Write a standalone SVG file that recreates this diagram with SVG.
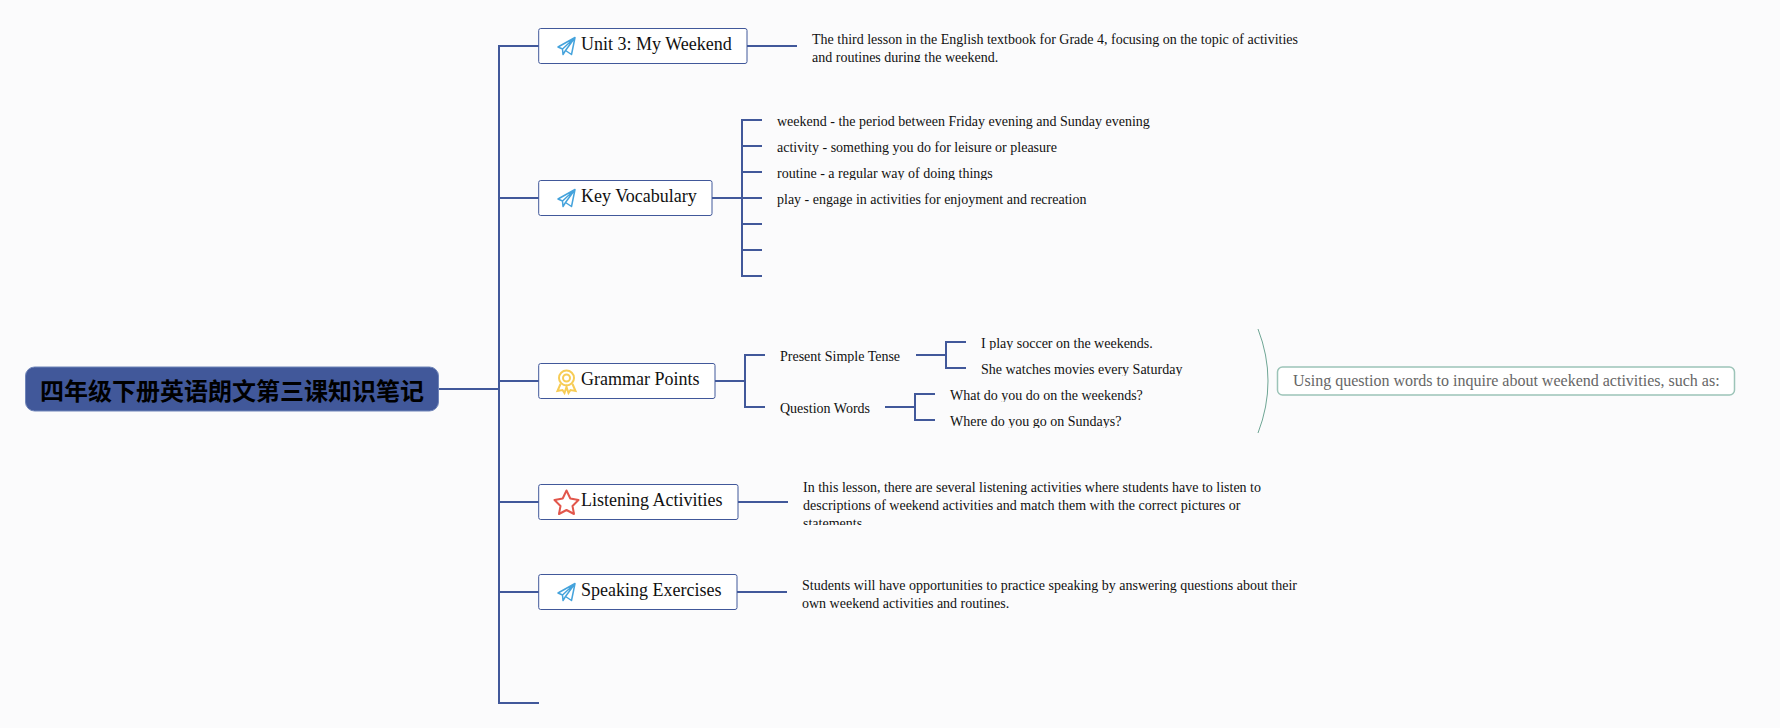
<svg xmlns="http://www.w3.org/2000/svg" width="1780" height="728" viewBox="0 0 1780 728">
<style>
text{font-family:"Liberation Serif","Noto Sans CJK SC",serif;fill:#111}
.c{fill:none;stroke:#41589a;stroke-width:2}
.b{fill:#fff;stroke:#41589a;stroke-width:1}
.l{font-size:18px}
.t{font-size:14px}
.plane{fill:none;stroke:#45a3dc;stroke-width:1.500;stroke-linejoin:round}
</style>
<defs>
<clipPath id="c1"><rect x="800" y="25" width="520" height="37"/></clipPath>
<clipPath id="c2"><rect x="770" y="110" width="400" height="19"/></clipPath>
<clipPath id="c3"><rect x="770" y="136" width="400" height="19"/></clipPath>
<clipPath id="c4"><rect x="770" y="162" width="400" height="18"/></clipPath>
<clipPath id="c5"><rect x="770" y="188" width="400" height="19"/></clipPath>
<clipPath id="c6"><rect x="770" y="344" width="230" height="19"/></clipPath>
<clipPath id="c7"><rect x="970" y="331" width="230" height="19"/></clipPath>
<clipPath id="c8"><rect x="970" y="357" width="230" height="19"/></clipPath>
<clipPath id="c9"><rect x="940" y="383" width="230" height="19"/></clipPath>
<clipPath id="c10"><rect x="940" y="409" width="230" height="19"/></clipPath>
<clipPath id="c11"><rect x="795" y="475" width="500" height="50"/></clipPath>
<path id="plane" d="M0 9.500L17 0L13.500 17L7.500 13L5 17L4.500 11.500ZM4.500 11.500L17 0M7.500 13L17 0"/>
</defs>
<rect width="1780" height="728" fill="#fbfbfc"/>
<g id="connectors">
<path class="c" d="M438 389H499M539 46H499V703H539M499 198H539M499 381H539M499 502H539M499 592H539"/>
<path class="c" d="M747 46H797"/>
<path class="c" d="M712 198H742M762 120H742V276H762M742 146H762M742 172H762M742 198H762M742 224H762M742 250H762"/>
<path class="c" d="M715 381H745M765 355H745V407H765"/>
<path class="c" d="M916 355H946M966 342H946V368H966"/>
<path class="c" d="M885 407H915M935 394H915V420H935"/>
<path class="c" d="M738 502H788"/>
<path class="c" d="M737 592H787"/>
<path d="M1258 329Q1278 381 1258 433" fill="none" stroke="#6fa695" stroke-width="1"/>
</g>
<g id="root"><rect x="25.500" y="367" width="413" height="44" rx="9" fill="#41589a" stroke="#6f84b8" stroke-width="1"/><text x="40" y="400" style="font-size:24px;font-weight:700;fill:#000;font-family:'Noto Sans CJK SC',sans-serif">四年级下册英语朗文第三课知识笔记</text></g>
<g id="node-unit"><rect class="b" x="538.700" y="28.500" width="208.300" height="35" rx="2"/><use href="#plane" class="plane" x="558" y="37.500"/><text class="l" x="581" y="50">Unit 3: My Weekend</text></g>
<g id="desc-unit" clip-path="url(#c1)"><text class="t" x="812" y="44">The third lesson in the English textbook for Grade 4, focusing on the topic of activities</text><text class="t" x="812" y="62">and routines during the weekend.</text></g>
<g id="node-vocab"><rect class="b" x="538.700" y="180.500" width="173.300" height="35" rx="2"/><use href="#plane" class="plane" x="558" y="189.500"/><text class="l" x="581" y="202">Key Vocabulary</text></g>
<g id="v1" clip-path="url(#c2)"><text class="t" x="777" y="126">weekend - the period between Friday evening and Sunday evening</text></g>
<g id="v2" clip-path="url(#c3)"><text class="t" x="777" y="152">activity - something you do for leisure or pleasure</text></g>
<g id="v3" clip-path="url(#c4)"><text class="t" x="777" y="178">routine - a regular way of doing things</text></g>
<g id="v4" clip-path="url(#c5)"><text class="t" x="777" y="204">play - engage in activities for enjoyment and recreation</text></g>
<g id="node-grammar"><rect class="b" x="538.700" y="363.500" width="176.300" height="35" rx="2"/>
<g fill="none" stroke="#f7cc55" stroke-width="2"><circle cx="566.500" cy="378" r="7.500"/><circle cx="566.500" cy="378" r="3.500"/><path d="M560.500 384L557.500 391L562.500 390L564.500 393L566.500 387L568.500 393L570.500 390L575.500 391L572.500 384"/></g>
<text class="l" x="581" y="385">Grammar Points</text></g>
<g id="g-present" clip-path="url(#c6)"><text class="t" x="780" y="361">Present Simple Tense</text></g>
<g id="g-question"><text class="t" x="780" y="413">Question Words</text></g>
<g id="g1" clip-path="url(#c7)"><text class="t" x="981" y="348">I play soccer on the weekends.</text></g>
<g id="g2" clip-path="url(#c8)"><text class="t" x="981" y="374">She watches movies every Saturday</text></g>
<g id="g3" clip-path="url(#c9)"><text class="t" x="950" y="400">What do you do on the weekends?</text></g>
<g id="g4" clip-path="url(#c10)"><text class="t" x="950" y="426">Where do you go on Sundays?</text></g>
<g id="summary"><rect x="1277.500" y="367" width="457" height="28" rx="5" fill="#fff" stroke="#9cc4b8" stroke-width="1.500"/><text x="1293" y="386" style="font-size:16px;fill:#666">Using question words to inquire about weekend activities, such as:</text></g>
<g id="node-listening"><rect class="b" x="538.700" y="484.500" width="199.300" height="35" rx="2"/><path d="M566.500 490.500L570.300 498.500L578.500 500L572.500 506L574 514L566.500 510L559 514L560.500 506L554.500 500L562.700 498.500Z" fill="none" stroke="#e2574c" stroke-width="2" stroke-linejoin="round"/><text class="l" x="581" y="506">Listening Activities</text></g>
<g id="desc-listening" clip-path="url(#c11)"><text class="t" x="803" y="492">In this lesson, there are several listening activities where students have to listen to</text><text class="t" x="803" y="510">descriptions of weekend activities and match them with the correct pictures or</text><text class="t" x="803" y="528">statements.</text></g>
<g id="node-speaking"><rect class="b" x="538.700" y="574.500" width="198.300" height="35" rx="2"/><use href="#plane" class="plane" x="558" y="583.500"/><text class="l" x="581" y="596">Speaking Exercises</text></g>
<g id="desc-speaking"><text class="t" x="802" y="590">Students will have opportunities to practice speaking by answering questions about their</text><text class="t" x="802" y="608">own weekend activities and routines.</text></g>
</svg>
